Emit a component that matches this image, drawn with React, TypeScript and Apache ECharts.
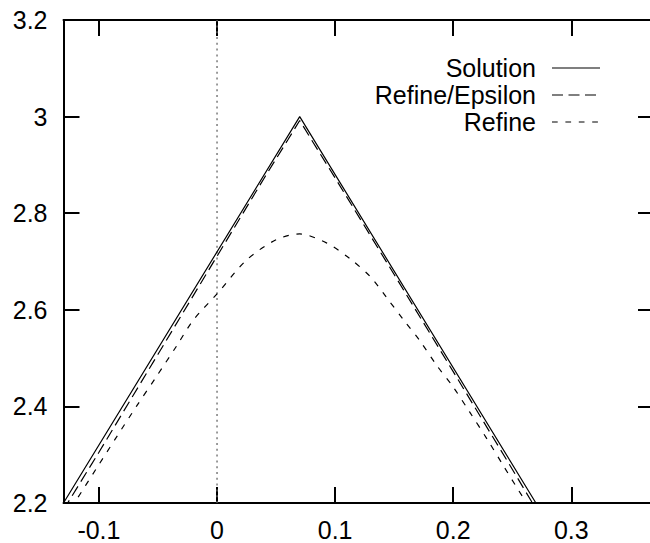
import React, { useEffect, useRef } from "react";
import * as echarts from "echarts";

const xTicks = [-0.1, 0, 0.1, 0.2, 0.3];
const yTicks = [2.2, 2.4, 2.6, 2.8, 3, 3.2];

const seriesNames = ["Solution", "Refine/Epsilon", "Refine"];

const solutionX = [-0.13, 0.07, 0.27];
const solutionY = [2.2, 3.0, 2.2];

const refineEpsX = [-0.13, -0.1, -0.05, 0, 0.04, 0.06, 0.07, 0.08, 0.1, 0.15, 0.2, 0.25, 0.27];
const refineEpsY = [2.186, 2.305, 2.508, 2.711, 2.873, 2.952, 2.992, 2.952, 2.873, 2.673, 2.472, 2.27, 2.188];

const refineX = [-0.13, -0.12, -0.102, -0.085, -0.068, -0.051, -0.034, -0.02, 0, 0.025, 0.05, 0.07, 0.093, 0.113, 0.13, 0.144, 0.158, 0.172, 0.186, 0.2, 0.214, 0.229, 0.243, 0.26, 0.27];
const refineY = [2.166, 2.203, 2.272, 2.337, 2.401, 2.463, 2.526, 2.579, 2.633, 2.703, 2.745, 2.757, 2.738, 2.705, 2.668, 2.624, 2.579, 2.535, 2.485, 2.44, 2.388, 2.331, 2.275, 2.208, 2.17];

const zeroLineY = [2.2, 3.2];

const FONT = "'Liberation Sans', Arial, Helvetica, sans-serif";

const zip = (xs: number[], ys: number[]) => xs.map((x, i) => [x, ys[i]]);

export default function App() {
  const ref = useRef<HTMLDivElement>(null);
  useEffect(() => {
    if (!ref.current) return;
    document.body.style.overflow = "hidden";
    const chart = echarts.init(ref.current, null, { renderer: "svg" });
    const fmt = (v: number) => String(Math.round(v * 10) / 10);
    const axisLine = { show: true, onZero: false, lineStyle: { color: "#000", width: 2 } };
    const tick = (vals: number[]) => ({
      show: true,
      inside: true,
      length: 16,
      lineStyle: { color: "#000", width: 2 },
      customValues: vals,
    });
    const dashes: any[] = ["solid", [11, 5.5], [5.7, 7.7]];
    const legendY = [68, 95, 122];
    const graphic: any[] = [];
    seriesNames.forEach((n, i) => {
      graphic.push({
        type: "text",
        x: 536,
        y: legendY[i],
        style: {
          text: n,
          fill: "#000",
          font: `25px ${FONT}`,
          textAlign: "right",
          textVerticalAlign: "middle",
        },
      });
      graphic.push({
        type: "line",
        shape: { x1: 552, y1: legendY[i], x2: 600, y2: legendY[i] },
        style: { stroke: "#000", lineWidth: 1.2, lineDash: dashes[i] === "solid" ? null : dashes[i] },
      });
    });
    chart.setOption({
      animation: false,
      grid: { left: 63.5, right: 6, top: 20, bottom: 40 },
      xAxis: [
        {
          type: "value",
          min: -0.13,
          max: 0.37,
          position: "bottom",
          axisLine,
          axisTick: tick(xTicks),
          splitLine: { show: false },
          axisLabel: {
            customValues: xTicks,
            formatter: fmt,
            fontSize: 25,
            fontFamily: FONT,
            color: "#000",
            margin: 14,
          },
        },
        {
          type: "value",
          min: -0.13,
          max: 0.37,
          position: "top",
          axisLine,
          axisTick: tick(xTicks),
          splitLine: { show: false },
          axisLabel: { show: false },
        },
      ],
      yAxis: [
        {
          type: "value",
          min: 2.2,
          max: 3.2,
          position: "left",
          axisLine,
          axisTick: tick(yTicks),
          splitLine: { show: false },
          axisLabel: {
            customValues: yTicks,
            formatter: fmt,
            fontSize: 25,
            fontFamily: FONT,
            color: "#000",
            margin: 16,
          },
        },
        {
          type: "value",
          min: 2.2,
          max: 3.2,
          position: "right",
          axisLine,
          axisTick: tick(yTicks),
          splitLine: { show: false },
          axisLabel: { show: false },
        },
      ],
      graphic,
      series: [
        {
          name: "zero",
          type: "line",
          data: zeroLineY.map((y) => [0, y]),
          symbol: "none",
          lineStyle: { color: "#666", width: 1.3, type: [2, 3.8] },
          silent: true,
        },
        {
          name: seriesNames[0],
          type: "line",
          data: zip(solutionX, solutionY),
          symbol: "none",
          clip: true,
          lineStyle: { color: "#000", width: 1.2, type: "solid" },
        },
        {
          name: seriesNames[1],
          type: "line",
          data: zip(refineEpsX, refineEpsY),
          symbol: "none",
          clip: true,
          lineStyle: { color: "#000", width: 1.2, type: dashes[1] },
        },
        {
          name: seriesNames[2],
          type: "line",
          data: zip(refineX, refineY),
          symbol: "none",
          smooth: 0.3,
          clip: true,
          lineStyle: { color: "#000", width: 1.2, type: dashes[2] },
        },
      ],
    });
    return () => chart.dispose();
  }, []);
  return (
    <div style={{ position: "absolute", left: 0, top: 0, width: 650, height: 543, overflow: "hidden", background: "#fff" }}>
      <div ref={ref} style={{ width: 660, height: 543 }} />
    </div>
  );
}
